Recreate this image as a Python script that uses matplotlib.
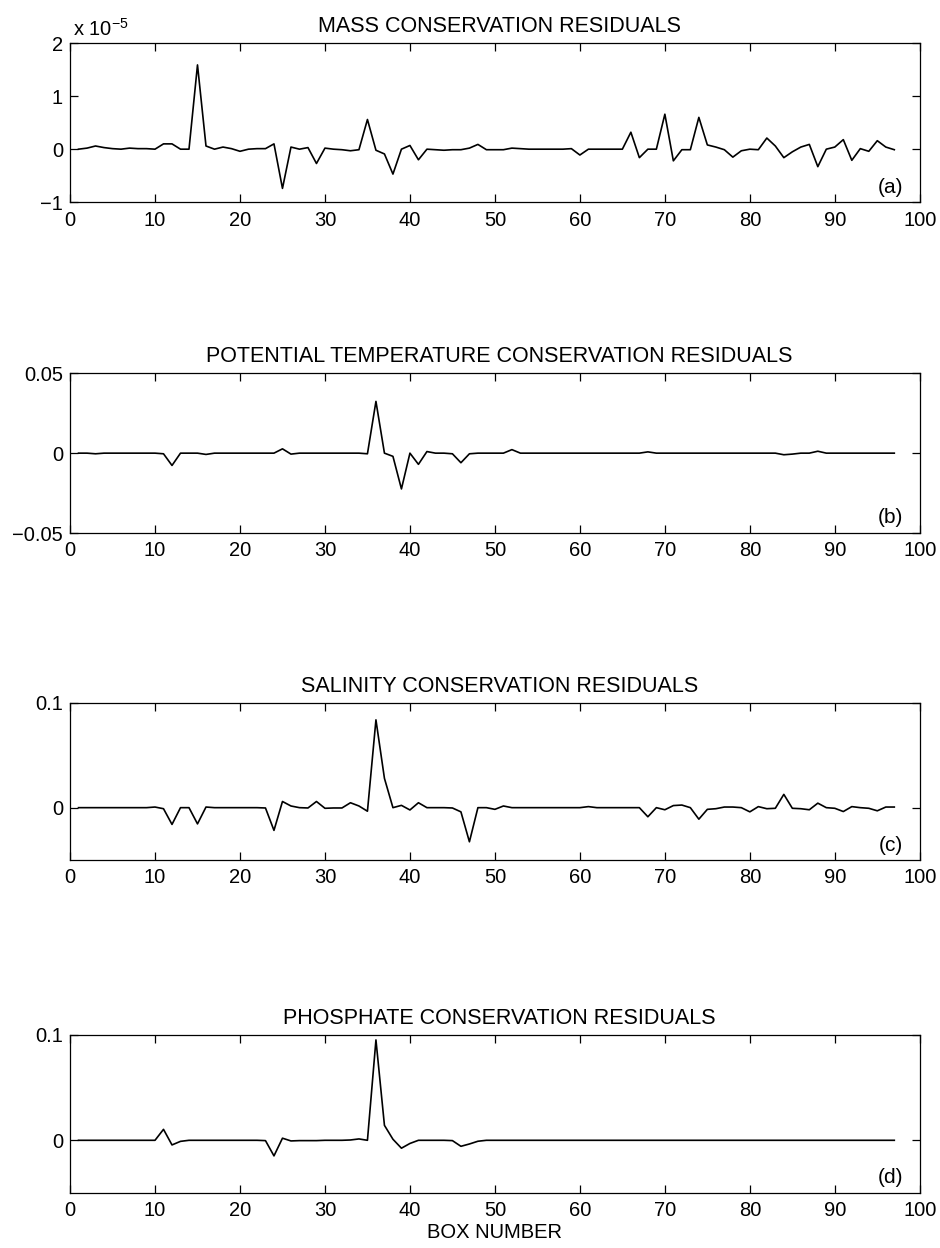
import matplotlib
matplotlib.use("Agg")
import matplotlib.pyplot as plt
import numpy as np

plt.rcParams["font.family"] = ["Liberation Sans", "DejaVu Sans"]
plt.rcParams["mathtext.fontset"] = "custom"
plt.rcParams["mathtext.rm"] = "Liberation Sans"
plt.rcParams["mathtext.it"] = "Liberation Sans:italic"

boxes = np.arange(1, 98)

# mass residuals, in units of 1e-5
mass = [
    0.00, 0.02, 0.06, 0.03, 0.01, 0.00, 0.02, 0.01, 0.01, 0.00,
    0.10, 0.10, 0.00, 0.00, 1.59, 0.06, 0.00, 0.04, 0.01, -0.04,
    0.00, 0.01, 0.01, 0.10, -0.74, 0.04, 0.00, 0.03, -0.27, 0.02,
    0.00, -0.01, -0.03, -0.01, 0.56, -0.02, -0.09, -0.47, 0.00, 0.07,
    -0.20, 0.00, -0.01, -0.02, -0.01, -0.01, 0.02, 0.09, -0.01, -0.01,
    -0.01, 0.02, 0.01, 0.00, 0.00, 0.00, 0.00, 0.00, 0.01, -0.11,
    0.00, 0.00, 0.00, 0.00, 0.00, 0.32, -0.16, 0.00, 0.00, 0.66,
    -0.22, -0.01, -0.01, 0.60, 0.08, 0.04, -0.01, -0.15, -0.03, 0.00,
    -0.01, 0.21, 0.06, -0.16, -0.05, 0.04, 0.09, -0.33, 0.00, 0.04,
    0.18, -0.21, 0.01, -0.04, 0.16, 0.04, -0.01,
]

theta = [
    0.0, 0.0, -0.0004, 0.0, 0.0, 0.0, 0.0, 0.0, 0.0, 0.0,
    -0.0004, -0.0077, 0.0, 0.0, 0.0, -0.0008, 0.0, 0.0, 0.0, 0.0,
    0.0, 0.0, 0.0, 0.0, 0.0027, -0.0006, 0.0, 0.0, 0.0, 0.0,
    0.0, 0.0, 0.0, 0.0, -0.0004, 0.0324, 0.0, -0.002, -0.0224, 0.0,
    -0.007, 0.001, 0.0, 0.0, -0.0004, -0.006, -0.0004, 0.0, 0.0, 0.0,
    0.0, 0.0022, 0.0, 0.0, 0.0, 0.0, 0.0, 0.0, 0.0, 0.0,
    0.0, 0.0, 0.0, 0.0, 0.0, 0.0, 0.0, 0.0008, 0.0, 0.0,
    0.0, 0.0, 0.0, 0.0, 0.0, 0.0, 0.0, 0.0, 0.0, 0.0,
    0.0, 0.0, 0.0, -0.001, -0.0006, 0.0, 0.0, 0.0012, 0.0, 0.0,
    0.0, 0.0, 0.0, 0.0, 0.0, 0.0, 0.0,
]

salinity = [
    0.0, 0.0, 0.0, 0.0, 0.0, 0.0, 0.0, 0.0, 0.0, 0.0006,
    -0.001, -0.016, 0.0, 0.0, -0.0155, 0.0006, 0.0, 0.0, 0.0, 0.0,
    0.0, 0.0, -0.0003, -0.0217, 0.0059, 0.0016, 0.0, -0.0003, 0.0059, -0.0006,
    -0.0003, -0.0003, 0.0047, 0.0016, -0.0034, 0.0839, 0.028, 0.0, 0.0022, -0.0022,
    0.0047, 0.0, 0.0, 0.0, -0.0003, -0.004, -0.0326, 0.0, 0.0, -0.0016,
    0.0016, 0.0, 0.0, 0.0, 0.0, 0.0, 0.0, 0.0, 0.0, 0.0,
    0.001, 0.0, 0.0, 0.0, 0.0, 0.0, 0.0, -0.0087, 0.0, -0.002,
    0.002, 0.0025, 0.0, -0.011, -0.0016, -0.001, 0.0006, 0.0006, 0.0, -0.004,
    0.001, -0.001, -0.0006, 0.0127, -0.0006, -0.001, -0.002, 0.0043, 0.0, -0.0006,
    -0.0037, 0.001, 0.0, -0.0006, -0.003, 0.0006, 0.0006,
]

phosphate = [
    0.0, 0.0, 0.0, 0.0, 0.0, 0.0, 0.0, 0.0, 0.0, 0.0,
    0.0104, -0.0044, -0.001, 0.0, 0.0, 0.0, 0.0, 0.0, 0.0, 0.0,
    0.0, 0.0, -0.0003, -0.0148, 0.002, -0.0006, -0.0003, -0.0003, -0.0003, 0.0,
    0.0, 0.0, 0.0003, 0.0013, 0.0, 0.0953, 0.0142, 0.001, -0.0075, -0.003,
    0.0, 0.0, 0.0, 0.0, -0.0003, -0.0057, -0.0035, -0.0009, 0.0, 0.0,
    0.0, 0.0, 0.0, 0.0, 0.0, 0.0, 0.0, 0.0, 0.0, 0.0,
    0.0, 0.0, 0.0, 0.0, 0.0, 0.0, 0.0, 0.0, 0.0, 0.0,
    0.0, 0.0, 0.0, 0.0, 0.0, 0.0, 0.0, 0.0, 0.0, 0.0,
    0.0, 0.0, 0.0, 0.0, 0.0, 0.0, 0.0, 0.0, 0.0, 0.0,
    0.0, 0.0, 0.0, 0.0, 0.0, 0.0, 0.0,
]

titles = [
    "MASS CONSERVATION RESIDUALS",
    "POTENTIAL TEMPERATURE CONSERVATION RESIDUALS",
    "SALINITY CONSERVATION RESIDUALS",
    "PHOSPHATE CONSERVATION RESIDUALS",
]
tags = ["(a)", "(b)", "(c)", "(d)"]
series = [mass, theta, salinity, phosphate]
ylims = [(-1, 2), (-0.05, 0.05), (-0.05, 0.1), (-0.05, 0.1)]
yticks = [[-1, 0, 1, 2], [-0.05, 0, 0.05], [0, 0.1], [0, 0.1]]
yticklabels = [["\u22121", "0", "1", "2"], ["\u22120.05", "0", "0.05"], ["0", "0.1"], ["0", "0.1"]]
xticks = np.arange(0, 101, 10)

# axes rectangles in figure fractions
rects = [
    (0.0745, 0.838, 0.904, 0.1274),
    (0.0745, 0.5729, 0.904, 0.128),
    (0.0745, 0.3109, 0.904, 0.1258),
    (0.0745, 0.0441, 0.904, 0.1266),
]

fig = plt.figure(figsize=(9.4, 12.48), dpi=100)
for i, (rect, y) in enumerate(zip(rects, series)):
    ax = fig.add_axes(rect)
    ax.plot(boxes, y, color="black", lw=1.2)
    ax.set_xlim(0, 100)
    ax.set_ylim(*ylims[i])
    ax.set_xticks(xticks)
    ax.set_yticks(yticks[i])
    ax.set_yticklabels(yticklabels[i])
    ax.tick_params(direction="in", top=True, right=True, length=6, width=0.9,
                   labelsize=14.5)
    ax.tick_params(axis="x", pad=6)
    ax.tick_params(axis="y", pad=5)
    for s in ax.spines.values():
        s.set_linewidth(0.9)
    ax.set_title(titles[i], fontsize=15.5, pad=8, x=0.505)
    ax.text(0.98, 0.095, tags[i], transform=ax.transAxes, ha="right",
            va="center", fontsize=15)
    if i == 0:
        ax.text(0.003, 1.02, r"x 10$^{-5}$", transform=ax.transAxes,
                ha="left", va="bottom", fontsize=14.5)
    if i == 3:
        ax.set_xlabel("BOX NUMBER", fontsize=14.5, labelpad=2)

fig.savefig("out.png", dpi=100)
